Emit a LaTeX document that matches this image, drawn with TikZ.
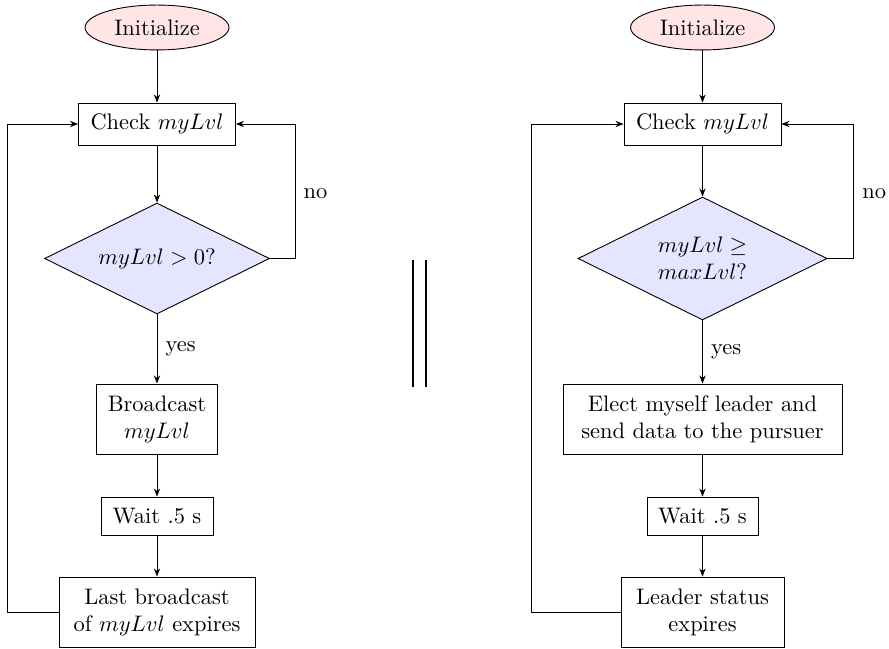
\documentclass[tikz,border=0pt]{standalone}
\usetikzlibrary{shapes.geometric,arrows.meta}
\begin{document}
\begin{tikzpicture}[x=0.4454pt,y=-0.4454pt,
  >={Stealth[length=3.6pt,width=2.8pt]},
  startnode/.style={ellipse, draw, fill=red!10, inner sep=0pt,
    minimum width=64.1pt, minimum height=20pt},
  procbox/.style={rectangle, draw, align=center, inner sep=0pt},
  decision/.style={diamond, draw, fill=blue!10, align=center, inner sep=0pt, aspect=2},
  flow/.style={draw, ->},
  lbl/.style={anchor=west, inner sep=0pt},
  bar/.style={line width=1pt}]
\useasboundingbox (0,0) rectangle (889,648);

% ---- left flowchart ----
\node[startnode] (initL) at (157,27.5) {Initialize};
\node[procbox, minimum width=69.9pt, minimum height=18.7pt] (checkL) at (157,124) {Check $myLvl$};
\node[decision, minimum width=100.2pt, minimum height=49.4pt] (diaL) at (157,258.5) {$myLvl > 0$?};
\node[procbox, minimum width=53.5pt, minimum height=31.2pt] (bcL) at (157,419) {Broadcast\\$myLvl$};
\node[procbox, minimum width=49.9pt, minimum height=16.9pt] (waitL) at (157,516) {Wait .5 s};
\node[procbox, minimum width=87.3pt, minimum height=31.2pt] (lastL) at (157,612) {Last broadcast\\of $myLvl$ expires};

\coordinate (cornerL) at (295,258.5);
\coordinate (backL) at (7,612);

\draw[flow] (initL) -- (checkL);
\draw[flow] (checkL) -- (diaL);
\draw[flow] (diaL) -- node[lbl, xshift=3.6pt] (yesL) {yes} (bcL);
\draw[flow] (bcL) -- (waitL);
\draw[flow] (waitL) -- (lastL);
\draw[flow] (diaL.east) -- (cornerL) |- node[pos=0.24, lbl, xshift=3.6pt] (noL) {no} (checkL.east);
\draw[flow] (lastL.west) -- (backL) |- (checkL.west);

% ---- separator ----
\draw[bar] (413,260) -- (413,387);
\draw[bar] (426,260) -- (426,387);

% ---- right flowchart ----
\node[startnode] (initR) at (702.5,27.5) {Initialize};
\node[procbox, minimum width=69.9pt, minimum height=18.7pt] (checkR) at (702.5,124) {Check $myLvl$};
\node[decision, minimum width=110.9pt, minimum height=54.8pt] (diaR) at (702.5,258.5) {$myLvl \geq$\\$maxLvl$?};
\node[procbox, minimum width=124.3pt, minimum height=31.2pt] (elect) at (702.5,419) {Elect myself leader and\\send data to the pursuer};
\node[procbox, minimum width=49.4pt, minimum height=16.9pt] (waitR) at (702.5,516) {Wait .5 s};
\node[procbox, minimum width=72.6pt, minimum height=31.2pt] (leader) at (702.5,612) {Leader status\\expires};

\coordinate (cornerR) at (853,258.5);
\coordinate (backR) at (531,612);

\draw[flow] (initR) -- (checkR);
\draw[flow] (checkR) -- (diaR);
\draw[flow] (diaR) -- node[lbl, xshift=3.6pt] (yesR) {yes} (elect);
\draw[flow] (elect) -- (waitR);
\draw[flow] (waitR) -- (leader);
\draw[flow] (diaR.east) -- (cornerR) |- node[pos=0.24, lbl, xshift=4pt] (noR) {no} (checkR.east);
\draw[flow] (leader.west) -- (backR) |- (checkR.west);
\end{tikzpicture}
\end{document}
